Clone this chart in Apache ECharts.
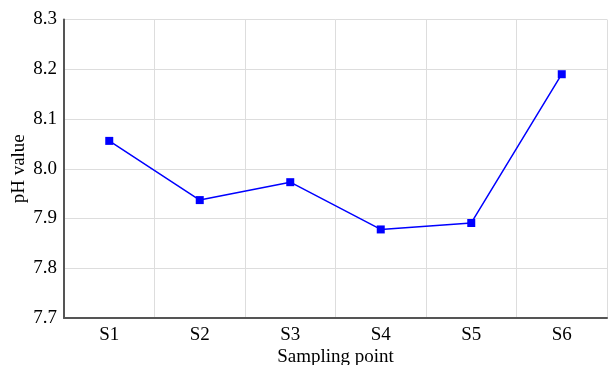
<!DOCTYPE html>
<html>
<head>
<meta charset="utf-8">
<script src="https://cdn.jsdelivr.net/npm/echarts@6/dist/echarts.min.js"></script>
<style>
  html, body { margin: 0; padding: 0; background: #fff; }
  #chart { width: 608px; height: 365px; }
</style>
</head>
<body>
<div id="chart"></div>
<script>
var categories = ['S1', 'S2', 'S3', 'S4', 'S5', 'S6'];
var phValues = [8.056, 7.937, 7.973, 7.878, 7.891, 8.19];

var chart = echarts.init(document.getElementById('chart'));
var font = 'Liberation Serif, Times New Roman, serif';

chart.setOption({
  animation: false,
  grid: { left: 64, right: 1, top: 19.5, bottom: 47, containLabel: false, outerBoundsMode: 'none' },
  xAxis: {
    type: 'category',
    data: categories,
    boundaryGap: true,
    name: 'Sampling point',
    nameLocation: 'middle',
    nameGap: 30,
    nameMoveOverlap: false,
    nameTextStyle: { fontFamily: font, fontSize: 19, color: '#000' },
    axisLine: { lineStyle: { color: '#555', width: 2 } },
    axisTick: { show: false },
    axisLabel: { fontFamily: font, fontSize: 19, color: '#000', margin: 8 },
    splitLine: { show: true, lineStyle: { color: '#ddd', width: 1 } }
  },
  yAxis: {
    type: 'value',
    min: 7.7,
    max: 8.3,
    interval: 0.1,
    name: 'pH value',
    nameLocation: 'middle',
    nameGap: 35,
    nameMoveOverlap: false,
    nameTextStyle: { fontFamily: font, fontSize: 19, color: '#000' },
    axisLine: { show: true, lineStyle: { color: '#555', width: 2 } },
    axisTick: { show: false },
    axisLabel: {
      fontFamily: font, fontSize: 19, color: '#000', margin: 7,
      formatter: function (v) { return v.toFixed(1); }
    },
    splitLine: { show: true, lineStyle: { color: '#ddd', width: 1 } }
  },
  series: [{
    type: 'line',
    data: phValues,
    symbol: 'rect',
    symbolSize: 8,
    itemStyle: { color: '#0000ff' },
    lineStyle: { color: '#0000ff', width: 1.5 }
  }]
});
</script>
</body>
</html>
